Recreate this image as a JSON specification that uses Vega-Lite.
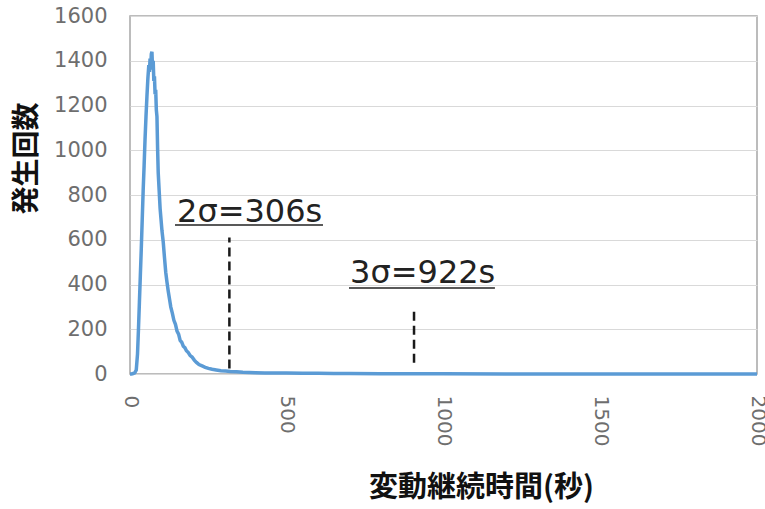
{
  "$schema": "https://vega.github.io/schema/vega-lite/v6.json",
  "width": 627,
  "height": 358,
  "autosize": {"type": "none"},
  "padding": {"left": 130, "top": 16, "right": 8, "bottom": 135},
  "background": "white",
  "config": {"view": {"stroke": "#a6a6a6", "strokeWidth": 1.5}},
  "layer": [
    {
      "data": {"values": [
        {"t": 0, "n": 0}, {"t": 5, "n": 0}, {"t": 10, "n": 2}, {"t": 15, "n": 5}, {"t": 20, "n": 18},
        {"t": 24, "n": 90}, {"t": 27, "n": 200}, {"t": 30, "n": 320}, {"t": 33, "n": 440}, {"t": 36, "n": 560},
        {"t": 39, "n": 690}, {"t": 42, "n": 820}, {"t": 45, "n": 930}, {"t": 48, "n": 1050}, {"t": 51, "n": 1150},
        {"t": 54, "n": 1240}, {"t": 57, "n": 1320}, {"t": 60, "n": 1380}, {"t": 62, "n": 1350}, {"t": 64, "n": 1410},
        {"t": 66, "n": 1370}, {"t": 68, "n": 1430}, {"t": 70, "n": 1440}, {"t": 72, "n": 1360}, {"t": 74, "n": 1400},
        {"t": 76, "n": 1310}, {"t": 78, "n": 1330}, {"t": 80, "n": 1250}, {"t": 82, "n": 1270}, {"t": 84, "n": 1180},
        {"t": 86, "n": 1150}, {"t": 88, "n": 1010}, {"t": 90, "n": 900}, {"t": 93, "n": 820}, {"t": 96, "n": 740},
        {"t": 99, "n": 690}, {"t": 102, "n": 640}, {"t": 106, "n": 590}, {"t": 110, "n": 520}, {"t": 114, "n": 455},
        {"t": 118, "n": 410}, {"t": 122, "n": 370}, {"t": 126, "n": 335}, {"t": 130, "n": 300}, {"t": 135, "n": 272},
        {"t": 140, "n": 240}, {"t": 145, "n": 222}, {"t": 150, "n": 192}, {"t": 155, "n": 178}, {"t": 160, "n": 150},
        {"t": 165, "n": 142}, {"t": 170, "n": 124}, {"t": 175, "n": 118}, {"t": 180, "n": 104}, {"t": 186, "n": 96},
        {"t": 192, "n": 82}, {"t": 198, "n": 76}, {"t": 205, "n": 62}, {"t": 212, "n": 52}, {"t": 220, "n": 42},
        {"t": 230, "n": 36}, {"t": 240, "n": 30}, {"t": 250, "n": 25}, {"t": 262, "n": 21}, {"t": 275, "n": 18},
        {"t": 290, "n": 15}, {"t": 305, "n": 13}, {"t": 320, "n": 11}, {"t": 340, "n": 10}, {"t": 360, "n": 8},
        {"t": 380, "n": 7}, {"t": 400, "n": 6}, {"t": 430, "n": 5}, {"t": 460, "n": 4}, {"t": 500, "n": 4},
        {"t": 550, "n": 3}, {"t": 600, "n": 3}, {"t": 650, "n": 2}, {"t": 700, "n": 2}, {"t": 800, "n": 1},
        {"t": 900, "n": 1}, {"t": 1000, "n": 1}, {"t": 1200, "n": 0}, {"t": 1500, "n": 0}, {"t": 2000, "n": 0}
      ]},
      "mark": {"type": "line", "color": "#5b9bd5", "strokeWidth": 3.5},
      "encoding": {
        "x": {
          "field": "t", "type": "quantitative", "title": "変動継続時間(秒)",
          "scale": {"domain": [0, 2000], "nice": false, "zero": true},
          "axis": {
            "values": [0, 500, 1000, 1500, 2000], "format": "d",
            "grid": false, "ticks": false, "domain": false,
            "labelAngle": 90, "labelFlush": false, "labelOverlap": false,
            "labelPadding": 21,
            "labelFont": "DejaVu Sans", "labelFontSize": 20, "labelColor": "#6e6e6e",
            "titleFont": "Noto Sans CJK JP", "titleFontSize": 29, "titleFontWeight": "bold",
            "titleColor": "#111111",
            "titleX": 351, "titleY": 113, "titleAlign": "center", "titleBaseline": "middle"
          }
        },
        "y": {
          "field": "n", "type": "quantitative", "title": "発生回数",
          "scale": {"domain": [0, 1600], "nice": false},
          "axis": {
            "values": [0, 200, 400, 600, 800, 1000, 1200, 1400, 1600], "format": "d",
            "grid": true, "gridColor": "#d9d9d9", "gridWidth": 1,
            "ticks": false, "domain": false,
            "labelPadding": 23,
            "labelFont": "DejaVu Sans", "labelFontSize": 21, "labelColor": "#6e6e6e",
            "titleFont": "Noto Sans CJK JP", "titleFontSize": 28, "titleFontWeight": "bold",
            "titleColor": "#111111", "titleAngle": -90,
            "titleX": -103, "titleY": 142, "titleAlign": "center", "titleBaseline": "middle"
          }
        }
      }
    },
    {
      "data": {"values": [
        {"x": 317, "y0": 25, "y1": 610},
        {"x": 906, "y0": 50, "y1": 300}
      ]},
      "mark": {"type": "rule", "color": "#1a1a1a", "strokeWidth": 2.5, "strokeDash": [9, 5]},
      "encoding": {
        "x": {"field": "x", "type": "quantitative", "title": "変動継続時間(秒)"},
        "y": {"field": "y0", "type": "quantitative", "title": "発生回数"},
        "y2": {"field": "y1"}
      }
    },
    {
      "data": {"values": [
        {"x0": 143.5, "x1": 615.6, "y": 666},
        {"x0": 698.6, "x1": 1164, "y": 384}
      ]},
      "mark": {"type": "rule", "color": "#222222", "strokeWidth": 1.5},
      "encoding": {
        "x": {"field": "x0", "type": "quantitative", "title": "変動継続時間(秒)"},
        "x2": {"field": "x1"},
        "y": {"field": "y", "type": "quantitative", "title": "発生回数"}
      }
    },
    {
      "data": {"values": [
        {"x": 150, "y": 679, "label": "2σ=306s"},
        {"x": 702, "y": 407, "label": "3σ=922s"}
      ]},
      "mark": {"type": "text", "align": "left", "baseline": "alphabetic", "font": "DejaVu Sans", "fontSize": 32, "color": "#222222"},
      "encoding": {
        "x": {"field": "x", "type": "quantitative", "title": "変動継続時間(秒)"},
        "y": {"field": "y", "type": "quantitative", "title": "発生回数"},
        "text": {"field": "label"}
      }
    }
  ]
}
